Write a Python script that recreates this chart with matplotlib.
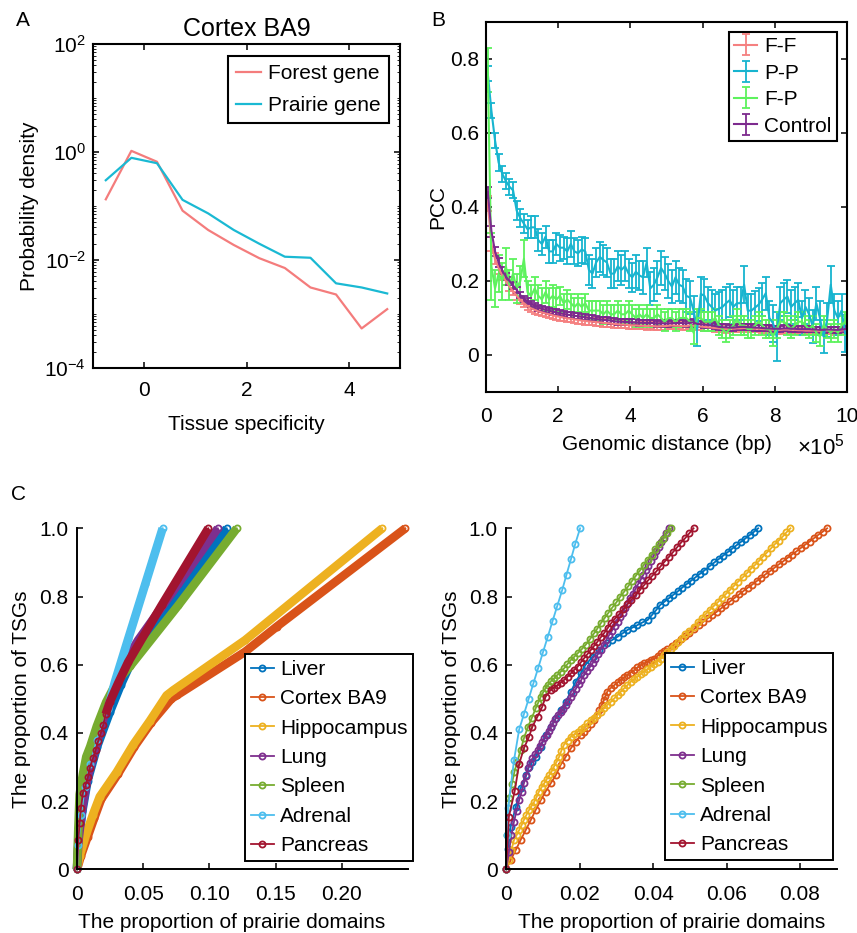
import numpy as np
import matplotlib
matplotlib.use("Agg")
import matplotlib.pyplot as plt
from matplotlib.ticker import LogLocator, NullFormatter

# ---------------- Panel A data ----------------
ts_x = [-0.75, -0.25, 0.25, 0.75, 1.25, 1.75, 2.25, 2.75, 3.25, 3.75, 4.25, 4.75]
forest_density = [0.133, 1.05, 0.66, 0.082, 0.036, 0.019, 0.0108, 0.0071, 0.0031, 0.0023, 0.00054, 0.00123]
prairie_density = [0.30, 0.78, 0.62, 0.13, 0.073, 0.036, 0.020, 0.0115, 0.011, 0.0037, 0.0031, 0.0024]

# ---------------- Panel B data ----------------
dist_bins = np.arange(100) * 0.1 + 0.05   # genomic distance bin centres, x 1e5 bp
FF = [0.41, 0.30, 0.26, 0.235, 0.215, 0.20, 0.185, 0.172, 0.16, 0.148,
      0.14, 0.132, 0.126, 0.122, 0.118, 0.115, 0.112, 0.11, 0.107, 0.105,
      0.103, 0.101, 0.099, 0.098, 0.096, 0.095, 0.093, 0.092, 0.091, 0.09,
      0.089, 0.088, 0.087, 0.086, 0.085, 0.084, 0.083, 0.082, 0.082, 0.081,
      0.08, 0.08, 0.079, 0.079, 0.078, 0.079, 0.078, 0.077, 0.078, 0.078,
      0.079, 0.08, 0.079, 0.079, 0.078, 0.078, 0.08, 0.079, 0.077, 0.077,
      0.076, 0.075, 0.074, 0.073, 0.072, 0.071, 0.07, 0.071, 0.071, 0.072,
      0.072, 0.073, 0.072, 0.071, 0.071, 0.071, 0.07, 0.07, 0.069, 0.068,
      0.068, 0.068, 0.069, 0.069, 0.068, 0.068, 0.067, 0.067, 0.066, 0.066,
      0.066, 0.066, 0.065, 0.065, 0.066, 0.066, 0.065, 0.065, 0.066, 0.067]
FF_err = [0.02, 0.02, 0.015, 0.015, 0.012, 0.012, 0.012, 0.01, 0.01, 0.01,
          0.01, 0.01, 0.01, 0.01, 0.01, 0.01, 0.01, 0.01, 0.01, 0.01,
          0.01, 0.01, 0.01, 0.01, 0.01, 0.01, 0.01, 0.01, 0.01, 0.01,
          0.01, 0.01, 0.01, 0.01, 0.01, 0.01, 0.01, 0.01, 0.01, 0.01,
          0.01, 0.01, 0.01, 0.01, 0.01, 0.01, 0.01, 0.01, 0.01, 0.01,
          0.01, 0.01, 0.01, 0.01, 0.01, 0.01, 0.01, 0.01, 0.01, 0.01,
          0.01, 0.01, 0.01, 0.01, 0.01, 0.01, 0.01, 0.01, 0.01, 0.01,
          0.01, 0.01, 0.01, 0.01, 0.01, 0.01, 0.01, 0.01, 0.01, 0.01,
          0.01, 0.01, 0.01, 0.01, 0.01, 0.01, 0.01, 0.01, 0.01, 0.01,
          0.01, 0.01, 0.01, 0.01, 0.01, 0.01, 0.01, 0.01, 0.01, 0.01]
PP = [0.76, 0.66, 0.58, 0.52, 0.49, 0.47, 0.455, 0.445, 0.39, 0.37,
      0.355, 0.34, 0.345, 0.345, 0.31, 0.30, 0.32, 0.28, 0.28, 0.30,
      0.29, 0.29, 0.28, 0.30, 0.28, 0.275, 0.285, 0.28, 0.23, 0.22,
      0.25, 0.265, 0.257, 0.25, 0.22, 0.22, 0.24, 0.23, 0.24, 0.22,
      0.21, 0.225, 0.215, 0.21, 0.25, 0.18, 0.19, 0.21, 0.235, 0.22,
      0.20, 0.185, 0.21, 0.19, 0.185, 0.16, 0.155, 0.12, 0.07, 0.165,
      0.16, 0.14, 0.13, 0.12, 0.125, 0.13, 0.14, 0.148, 0.13, 0.14,
      0.14, 0.19, 0.12, 0.12, 0.128, 0.136, 0.15, 0.167, 0.10, 0.086,
      0.05, 0.14, 0.15, 0.158, 0.13, 0.14, 0.149, 0.10, 0.13, 0.11,
      0.077, 0.14, 0.10, 0.05, 0.095, 0.19, 0.12, 0.10, 0.12, 0.058]
PP_err = [0.02, 0.02, 0.02, 0.022, 0.022, 0.022, 0.022, 0.022, 0.025, 0.025,
          0.025, 0.025, 0.03, 0.03, 0.03, 0.03, 0.03, 0.03, 0.03, 0.03,
          0.035, 0.03, 0.035, 0.035, 0.035, 0.035, 0.035, 0.035, 0.04, 0.04,
          0.04, 0.04, 0.04, 0.04, 0.04, 0.04, 0.04, 0.04, 0.04, 0.04,
          0.04, 0.045, 0.04, 0.045, 0.04, 0.045, 0.045, 0.045, 0.045, 0.045,
          0.045, 0.045, 0.045, 0.045, 0.045, 0.045, 0.045, 0.04, 0.045, 0.045,
          0.045, 0.045, 0.045, 0.045, 0.045, 0.045, 0.045, 0.045, 0.045, 0.045,
          0.045, 0.05, 0.045, 0.045, 0.045, 0.045, 0.045, 0.045, 0.045, 0.05,
          0.065, 0.045, 0.045, 0.045, 0.045, 0.045, 0.045, 0.045, 0.045, 0.045,
          0.045, 0.045, 0.045, 0.045, 0.045, 0.05, 0.045, 0.045, 0.045, 0.05]
FP = [0.77, 0.24, 0.18, 0.22, 0.20, 0.24, 0.19, 0.22, 0.18, 0.20,
      0.26, 0.17, 0.16, 0.18, 0.16, 0.15, 0.17, 0.15, 0.16, 0.15,
      0.16, 0.14, 0.15, 0.14, 0.13, 0.14, 0.13, 0.14, 0.12, 0.12,
      0.12, 0.12, 0.11, 0.12, 0.11, 0.11, 0.12, 0.11, 0.11, 0.12,
      0.11, 0.10, 0.11, 0.10, 0.11, 0.10, 0.10, 0.11, 0.10, 0.09,
      0.10, 0.10, 0.09, 0.10, 0.10, 0.10, 0.09, 0.06, 0.10, 0.10,
      0.09, 0.09, 0.09, 0.10, 0.08, 0.07, 0.06, 0.07, 0.08, 0.10,
      0.08, 0.08, 0.07, 0.07, 0.08, 0.09, 0.08, 0.07, 0.07, 0.05,
      0.07, 0.09, 0.09, 0.08, 0.07, 0.08, 0.09, 0.09, 0.08, 0.07,
      0.08, 0.06, 0.05, 0.08, 0.07, 0.06, 0.07, 0.06, 0.08, 0.09]
FP_err = [0.06, 0.09, 0.05, 0.05, 0.05, 0.05, 0.04, 0.04, 0.04, 0.04,
          0.05, 0.03, 0.03, 0.03, 0.03, 0.03, 0.03, 0.03, 0.03, 0.03,
          0.025, 0.025, 0.025, 0.025, 0.025, 0.025, 0.025, 0.025, 0.025, 0.025,
          0.025, 0.025, 0.025, 0.025, 0.025, 0.025, 0.025, 0.025, 0.025, 0.025,
          0.025, 0.025, 0.025, 0.025, 0.025, 0.025, 0.025, 0.025, 0.025, 0.025,
          0.025, 0.025, 0.025, 0.025, 0.025, 0.025, 0.025, 0.03, 0.025, 0.025,
          0.025, 0.025, 0.025, 0.025, 0.025, 0.025, 0.025, 0.025, 0.025, 0.025,
          0.025, 0.025, 0.025, 0.025, 0.025, 0.025, 0.025, 0.025, 0.025, 0.025,
          0.025, 0.025, 0.025, 0.025, 0.025, 0.025, 0.025, 0.025, 0.025, 0.025,
          0.025, 0.025, 0.025, 0.025, 0.025, 0.025, 0.025, 0.025, 0.025, 0.025]
CT = [0.44, 0.335, 0.28, 0.25, 0.228, 0.212, 0.20, 0.188, 0.176, 0.162,
      0.152, 0.145, 0.138, 0.133, 0.128, 0.125, 0.122, 0.12, 0.117, 0.115,
      0.113, 0.111, 0.109, 0.108, 0.106, 0.105, 0.103, 0.102, 0.100, 0.099,
      0.097, 0.096, 0.095, 0.094, 0.093, 0.091, 0.09, 0.09, 0.089, 0.089,
      0.088, 0.088, 0.087, 0.087, 0.086, 0.087, 0.086, 0.085, 0.086, 0.085,
      0.085, 0.086, 0.086, 0.087, 0.086, 0.085, 0.087, 0.088, 0.084, 0.083,
      0.082, 0.081, 0.08, 0.078, 0.076, 0.075, 0.075, 0.074, 0.074, 0.075,
      0.076, 0.076, 0.075, 0.075, 0.074, 0.074, 0.073, 0.072, 0.072, 0.071,
      0.071, 0.071, 0.072, 0.072, 0.071, 0.071, 0.07, 0.07, 0.07, 0.07,
      0.069, 0.069, 0.068, 0.068, 0.069, 0.069, 0.068, 0.068, 0.069, 0.07]
CT_err = [0.015, 0.015, 0.012, 0.012, 0.01, 0.01, 0.01, 0.01, 0.008, 0.008,
          0.008, 0.008, 0.008, 0.008, 0.008, 0.008, 0.008, 0.008, 0.008, 0.008,
          0.008, 0.008, 0.008, 0.008, 0.008, 0.008, 0.008, 0.008, 0.008, 0.008,
          0.008, 0.008, 0.008, 0.008, 0.008, 0.008, 0.008, 0.008, 0.008, 0.008,
          0.008, 0.008, 0.008, 0.008, 0.008, 0.008, 0.008, 0.008, 0.008, 0.008,
          0.008, 0.008, 0.008, 0.008, 0.008, 0.008, 0.008, 0.008, 0.008, 0.008,
          0.008, 0.008, 0.008, 0.008, 0.008, 0.008, 0.008, 0.008, 0.008, 0.008,
          0.008, 0.008, 0.008, 0.008, 0.008, 0.008, 0.008, 0.008, 0.008, 0.008,
          0.008, 0.008, 0.008, 0.008, 0.008, 0.008, 0.008, 0.008, 0.008, 0.008,
          0.008, 0.008, 0.008, 0.008, 0.008, 0.008, 0.008, 0.008, 0.008, 0.008]

# ---------------- Panel C data ----------------
tissues = ["Liver", "Cortex BA9", "Hippocampus", "Lung", "Spleen", "Adrenal", "Pancreas"]

# left: proportion of prairie domains (all domains)
liver_L_x = [0, 0.001, 0.004, 0.008, 0.0152, 0.0247, 0.033, 0.040, 0.0765, 0.1131]
liver_L_y = [0, 0.07, 0.17, 0.26, 0.36, 0.46, 0.54, 0.60, 0.804, 1.0]
cortex_L_x = [0, 0.003, 0.008, 0.013, 0.0182, 0.031, 0.0434, 0.056, 0.0712, 0.0753, 0.127, 0.151, 0.248]
cortex_L_y = [0, 0.04, 0.095, 0.15, 0.205, 0.28, 0.36, 0.43, 0.50, 0.51, 0.638, 0.712, 1.0]
hippo_L_x = [0, 0.002, 0.0071, 0.012, 0.0172, 0.030, 0.0424, 0.055, 0.0677, 0.0727, 0.127, 0.2306]
hippo_L_y = [0, 0.04, 0.105, 0.16, 0.213, 0.285, 0.365, 0.435, 0.51, 0.525, 0.672, 1.0]
lung_L_x = [0, 0.001, 0.004, 0.008, 0.015, 0.022, 0.030, 0.038, 0.0462, 0.0763, 0.1064]
lung_L_y = [0, 0.08, 0.18, 0.27, 0.37, 0.47, 0.55, 0.62, 0.672, 0.836, 1.0]
spleen_L_x = [0, 0.001, 0.002, 0.0045, 0.007, 0.010, 0.015, 0.022, 0.030, 0.040, 0.0765, 0.1207]
spleen_L_y = [0, 0.12, 0.22, 0.28, 0.33, 0.36, 0.42, 0.49, 0.55, 0.595, 0.774, 1.0]
adrenal_L_x = [0, 0.001, 0.003, 0.006, 0.010, 0.015, 0.0235, 0.0286, 0.0387, 0.0517, 0.0647]
adrenal_L_y = [0, 0.07, 0.16, 0.24, 0.31, 0.38, 0.471, 0.549, 0.676, 0.838, 1.0]
pancreas_L_x = [0, 0.001, 0.002, 0.003, 0.0045, 0.0066, 0.0083, 0.0096, 0.012, 0.0141, 0.0159,
                0.0179, 0.0197, 0.0217, 0.0247, 0.031, 0.0387, 0.0639, 0.0992]
pancreas_L_y = [0, 0.086, 0.135, 0.18, 0.224, 0.248, 0.272, 0.297, 0.326, 0.35, 0.375,
                0.399, 0.423, 0.455, 0.49, 0.545, 0.608, 0.774, 1.0]

# right
liver_R_x = [0, 0.0005, 0.0012, 0.0026, 0.0039, 0.0053, 0.0062, 0.0071, 0.0080, 0.0094,
             0.0107, 0.0121, 0.0135, 0.0148, 0.0162, 0.0176, 0.0189, 0.0203, 0.0216, 0.0235,
             0.0253, 0.0275, 0.0289, 0.0303, 0.0317, 0.0330, 0.0344, 0.0357, 0.0371, 0.0385,
             0.0397, 0.0408, 0.0419, 0.0431, 0.0443, 0.0455, 0.0467, 0.0479, 0.0491, 0.0503,
             0.0515, 0.0527, 0.0539, 0.0555, 0.0567, 0.0579, 0.0591, 0.0603, 0.0615, 0.0627,
             0.0639, 0.0651, 0.0663, 0.0675, 0.0686]
liver_R_y = [0, 0.06, 0.125, 0.184, 0.237, 0.277, 0.301, 0.315, 0.330, 0.360,
             0.394, 0.418, 0.443, 0.467, 0.492, 0.521, 0.550, 0.575, 0.600, 0.623,
             0.643, 0.663, 0.673, 0.682, 0.692, 0.702, 0.709, 0.716, 0.724, 0.731,
             0.746, 0.760, 0.775, 0.785, 0.795, 0.805, 0.815, 0.826, 0.836, 0.846,
             0.856, 0.866, 0.876, 0.890, 0.900, 0.910, 0.920, 0.930, 0.940, 0.950,
             0.960, 0.970, 0.980, 0.990, 1.0]
cortex_R_x = [0, 0.0012, 0.0026, 0.0039, 0.0053, 0.0067, 0.0080, 0.0094, 0.0107, 0.0121,
              0.0135, 0.0148, 0.0162, 0.0176, 0.0189, 0.0203, 0.0212, 0.0221, 0.0230, 0.0239,
              0.0246, 0.0253, 0.0260, 0.0266, 0.0270, 0.0275, 0.0284, 0.0294, 0.0303, 0.0312,
              0.0321, 0.0330, 0.0339, 0.0348, 0.0357, 0.0366, 0.0376, 0.0385, 0.0394, 0.0403,
              0.0412, 0.0421, 0.0430, 0.0439, 0.0451, 0.0463, 0.0475, 0.0487, 0.0499, 0.0511,
              0.0525, 0.0537, 0.0549, 0.0561, 0.0573, 0.0585, 0.0597, 0.0610, 0.0622, 0.0634,
              0.0646, 0.0658, 0.0670, 0.0682, 0.0694, 0.0706, 0.0718, 0.0730, 0.0742, 0.0754,
              0.0766, 0.0778, 0.0790, 0.0802, 0.0814, 0.0826, 0.0838, 0.0850, 0.0862, 0.0874]
cortex_R_y = [0, 0.027, 0.057, 0.086, 0.115, 0.145, 0.174, 0.203, 0.228, 0.252,
              0.276, 0.306, 0.330, 0.355, 0.374, 0.394, 0.403, 0.413, 0.425, 0.438,
              0.452, 0.467, 0.482, 0.496, 0.508, 0.521, 0.531, 0.540, 0.548, 0.555,
              0.563, 0.570, 0.577, 0.584, 0.592, 0.599, 0.604, 0.609, 0.613, 0.618,
              0.626, 0.633, 0.639, 0.645, 0.655, 0.665, 0.675, 0.684, 0.694, 0.704,
              0.716, 0.726, 0.736, 0.746, 0.755, 0.765, 0.775, 0.786, 0.796, 0.806,
              0.816, 0.826, 0.835, 0.845, 0.855, 0.865, 0.874, 0.884, 0.894, 0.903,
              0.913, 0.923, 0.932, 0.942, 0.952, 0.961, 0.971, 0.981, 0.990, 1.0]
hippo_R_x = [0, 0.0007, 0.0014, 0.0021, 0.0028, 0.0035, 0.0042, 0.0048, 0.0055, 0.0062,
             0.0069, 0.0076, 0.0083, 0.0089, 0.0096, 0.0103, 0.0110, 0.0117, 0.0124, 0.0130,
             0.0137, 0.0144, 0.0150, 0.0157, 0.0167, 0.0176, 0.0185, 0.0194, 0.0203, 0.0212,
             0.0221, 0.0230, 0.0239, 0.0248, 0.0257, 0.0266, 0.0275, 0.0285, 0.0294, 0.0303,
             0.0312, 0.0321, 0.0330, 0.0339, 0.0348, 0.0357, 0.0366, 0.0375, 0.0384, 0.0394,
             0.0403, 0.0412, 0.0421, 0.0430, 0.0439, 0.0448, 0.0458, 0.0468, 0.0478, 0.0488,
             0.0499, 0.0510, 0.0521, 0.0532, 0.0543, 0.0554, 0.0565, 0.0576, 0.0587, 0.0598,
             0.0609, 0.0620, 0.0631, 0.0646, 0.0657, 0.0667, 0.0678, 0.0689, 0.0699, 0.0710,
             0.0721, 0.0731, 0.0742, 0.0753, 0.0763, 0.0774]
hippo_R_y = [0, 0.027, 0.057, 0.086, 0.100, 0.115, 0.130, 0.145, 0.160, 0.174,
             0.186, 0.198, 0.213, 0.228, 0.240, 0.252, 0.264, 0.276, 0.288, 0.301,
             0.315, 0.330, 0.348, 0.365, 0.377, 0.389, 0.396, 0.403, 0.410, 0.418,
             0.428, 0.438, 0.445, 0.452, 0.462, 0.472, 0.482, 0.491, 0.501, 0.511,
             0.521, 0.531, 0.540, 0.550, 0.558, 0.565, 0.573, 0.580, 0.587, 0.594,
             0.602, 0.609, 0.618, 0.627, 0.636, 0.645, 0.655, 0.666, 0.677, 0.689,
             0.700, 0.712, 0.724, 0.736, 0.748, 0.760, 0.772, 0.783, 0.795, 0.807,
             0.819, 0.831, 0.843, 0.858, 0.870, 0.882, 0.893, 0.905, 0.917, 0.929,
             0.941, 0.953, 0.964, 0.976, 0.988, 1.0]
lung_R_x = [0, 0.0007, 0.0014, 0.0021, 0.0028, 0.0035, 0.0042, 0.0048, 0.0054, 0.0059,
            0.0065, 0.0071, 0.0078, 0.0085, 0.0092, 0.0098, 0.0104, 0.0110, 0.0116, 0.0122,
            0.0128, 0.0134, 0.0140, 0.0148, 0.0155, 0.0162, 0.0169, 0.0176, 0.0183, 0.0190,
            0.0197, 0.0204, 0.0212, 0.0219, 0.0227, 0.0235, 0.0242, 0.0249, 0.0257, 0.0265,
            0.0272, 0.0280, 0.0288, 0.0295, 0.0303, 0.0310, 0.0317, 0.0324, 0.0331, 0.0338,
            0.0345, 0.0352, 0.0359, 0.0366, 0.0373, 0.0380, 0.0387, 0.0394, 0.0401, 0.0408,
            0.0415, 0.0422, 0.0429, 0.0436, 0.0443]
lung_R_y = [0, 0.05, 0.10, 0.14, 0.172, 0.203, 0.228, 0.252, 0.274, 0.296,
            0.311, 0.325, 0.338, 0.350, 0.362, 0.374, 0.384, 0.394, 0.406, 0.418,
            0.430, 0.442, 0.453, 0.460, 0.469, 0.481, 0.494, 0.506, 0.518, 0.530,
            0.543, 0.555, 0.570, 0.581, 0.592, 0.604, 0.617, 0.630, 0.643, 0.658,
            0.672, 0.687, 0.700, 0.713, 0.726, 0.740, 0.753, 0.767, 0.781, 0.795,
            0.808, 0.822, 0.836, 0.849, 0.863, 0.877, 0.890, 0.904, 0.918, 0.932,
            0.945, 0.959, 0.973, 0.986, 1.0]
spleen_R_x = [0, 0.0002, 0.0007, 0.0015, 0.0022, 0.0030, 0.0039, 0.0048, 0.0059, 0.0070,
              0.0080, 0.0087, 0.0094, 0.0100, 0.0107, 0.0114, 0.0121, 0.0130, 0.0139, 0.0148,
              0.0157, 0.0166, 0.0176, 0.0185, 0.0194, 0.0205, 0.0216, 0.0228, 0.0239, 0.0248,
              0.0257, 0.0268, 0.0278, 0.0289, 0.0300, 0.0310, 0.0321, 0.0332, 0.0342, 0.0353,
              0.0364, 0.0374, 0.0385, 0.0396, 0.0406, 0.0417, 0.0428, 0.0438, 0.0449]
spleen_R_y = [0, 0.10, 0.209, 0.250, 0.285, 0.316, 0.350, 0.384, 0.418, 0.445,
              0.472, 0.489, 0.506, 0.518, 0.531, 0.541, 0.551, 0.560, 0.570, 0.579,
              0.589, 0.601, 0.614, 0.623, 0.633, 0.645, 0.658, 0.675, 0.692, 0.706,
              0.721, 0.737, 0.752, 0.768, 0.783, 0.799, 0.814, 0.830, 0.845, 0.861,
              0.876, 0.892, 0.907, 0.923, 0.938, 0.954, 0.969, 0.985, 1.0]
adrenal_R_x = [0, 0.0002, 0.0005, 0.0021, 0.0035, 0.0048, 0.0061, 0.0074, 0.0087, 0.0100,
               0.0113, 0.0126, 0.0139, 0.0152, 0.0164, 0.0176, 0.0188, 0.0201]
adrenal_R_y = [0, 0.10, 0.18, 0.32, 0.41, 0.455, 0.50, 0.546, 0.591, 0.637,
               0.682, 0.728, 0.773, 0.818, 0.864, 0.909, 0.955, 1.0]
pancreas_R_x = [0, 0.0007, 0.0023, 0.0035, 0.0048, 0.0062, 0.0071, 0.0085, 0.0098, 0.0107,
                0.0121, 0.0130, 0.0139, 0.0148, 0.0157, 0.0167, 0.0176, 0.0185, 0.0194, 0.0203,
                0.0212, 0.0221, 0.0230, 0.0239, 0.0248, 0.0257, 0.0266, 0.0276, 0.0285, 0.0296,
                0.0308, 0.0319, 0.0330, 0.0341, 0.0353, 0.0364, 0.0375, 0.0386, 0.0398, 0.0409,
                0.0420, 0.0431, 0.0443, 0.0454, 0.0465, 0.0476, 0.0488, 0.0499, 0.0510]
pancreas_R_y = [0, 0.154, 0.230, 0.309, 0.355, 0.389, 0.418, 0.448, 0.477, 0.506,
                0.526, 0.533, 0.540, 0.547, 0.555, 0.565, 0.575, 0.585, 0.594, 0.607,
                0.619, 0.631, 0.643, 0.655, 0.667, 0.680, 0.692, 0.707, 0.721, 0.735,
                0.749, 0.763, 0.777, 0.791, 0.805, 0.819, 0.833, 0.847, 0.861, 0.874,
                0.888, 0.902, 0.916, 0.930, 0.944, 0.958, 0.972, 0.986, 1.0]

# ---------------- style ----------------
tissue_colors = ["#0072BD", "#D95319", "#EDB120", "#7E2F8E", "#77AC30", "#4DBEEE", "#A2142F"]
band_from = {"Adrenal": 0.45, "Pancreas": 0.45}

plt.rcParams.update({
    "font.family": ["Liberation Sans", "DejaVu Sans"],
    "font.size": 15,
    "mathtext.fontset": "custom",
    "mathtext.rm": "Liberation Sans",
    "mathtext.it": "Liberation Sans:italic",
    "mathtext.bf": "Liberation Sans:bold",
    "axes.linewidth": 1.5,
    "xtick.direction": "in",
    "ytick.direction": "in",
    "xtick.major.size": 4,
    "ytick.major.size": 4,
    "xtick.minor.size": 2,
    "ytick.minor.size": 2,
    "xtick.major.width": 1.1,
    "ytick.major.width": 1.1,
    "legend.frameon": True,
    "legend.fancybox": False,
    "legend.edgecolor": "black",
    "legend.framealpha": 1.0,
})

W, H = 857, 933
fig = plt.figure(figsize=(W / 100, H / 100), dpi=100)


def rect(l, t, r, b):
    return [l / W, 1 - b / H, (r - l) / W, (b - t) / H]


# ---------------- Panel A ----------------
axA = fig.add_axes(rect(93, 44, 400, 368))
axA.plot(ts_x, forest_density, color="#F47C7C", lw=1.6, label="Forest gene")
axA.plot(ts_x, prairie_density, color="#1AB9D3", lw=1.6, label="Prairie gene")
axA.set_yscale("log")
axA.set_ylim(1e-4, 1e2)
axA.set_xlim(-1, 5)
axA.set_xticks([0, 2, 4])
axA.set_yticks([1e-4, 1e-2, 1e0, 1e2])
axA.yaxis.set_minor_locator(LogLocator(base=10, subs=np.arange(1, 10), numticks=50))
axA.yaxis.set_minor_formatter(NullFormatter())
axA.tick_params(which="both", top=True, right=True)
axA.tick_params(axis="x", pad=9)
axA.tick_params(axis="y", pad=5)
axA.set_title("Cortex BA9", pad=6)
axA.set_xlabel("Tissue specificity", labelpad=11)
axA.set_ylabel("Probability density", labelpad=4)
legA = axA.legend(loc="upper right", bbox_to_anchor=(1 - 11 / 307, 1 - 12 / 324),
                  borderaxespad=0, handlelength=1.2, handletextpad=0.35,
                  labelspacing=0.62, borderpad=0.38)
legA.get_frame().set_linewidth(1.5)

# ---------------- Panel B ----------------
axB = fig.add_axes(rect(486, 22, 847, 392))
for vals, errs, col, lab in [(FF, FF_err, "#F58080", "F-F"),
                             (PP, PP_err, "#17B4CF", "P-P"),
                             (FP, FP_err, "#5DF25D", "F-P"),
                             (CT, CT_err, "#7D2A8E", "Control")]:
    axB.errorbar(dist_bins, vals, yerr=errs, color=col, lw=1.5, elinewidth=1.3,
                 capsize=3.2, capthick=1.3, label=lab)
axB.set_xlim(0, 10)
axB.set_ylim(-0.1, 0.9)
axB.set_xticks([0, 2, 4, 6, 8, 10])
axB.set_yticks([0, 0.2, 0.4, 0.6, 0.8])
axB.set_yticklabels(["0", "0.2", "0.4", "0.6", "0.8"])
axB.tick_params(which="both", top=True, right=True)
axB.tick_params(axis="x", pad=11)
axB.tick_params(axis="y", pad=5)
axB.set_xlabel("Genomic distance (bp)", labelpad=6)
axB.set_ylabel("PCC", labelpad=2)
legB = axB.legend(loc="upper right", bbox_to_anchor=(1 - 10 / 361, 1 - 10 / 370),
                  borderaxespad=0, handlelength=1.1, handletextpad=0.35,
                  labelspacing=0.36, borderpad=0.25)
legB.get_frame().set_linewidth(1.5)
fig.text(797 / W, 1 - 455 / H, r"$\times\mathdefault{10^{5}}$", ha="left", va="baseline",
         fontsize=16)

# ---------------- Panel C ----------------
left_data = [(liver_L_x, liver_L_y), (cortex_L_x, cortex_L_y), (hippo_L_x, hippo_L_y),
             (lung_L_x, lung_L_y), (spleen_L_x, spleen_L_y), (adrenal_L_x, adrenal_L_y),
             (pancreas_L_x, pancreas_L_y)]
right_data = [(liver_R_x, liver_R_y), (cortex_R_x, cortex_R_y), (hippo_R_x, hippo_R_y),
              (lung_R_x, lung_R_y), (spleen_R_x, spleen_R_y), (adrenal_R_x, adrenal_R_y),
              (pancreas_R_x, pancreas_R_y)]

axL = fig.add_axes(rect(77, 528.3, 408, 869.3))
axR = fig.add_axes(rect(506.3, 528.3, 836.7, 869.3))

for name, col, (xs, ys) in zip(tissues, tissue_colors, left_data):
    xs = np.asarray(xs); ys = np.asarray(ys)
    sel = ys >= band_from.get(name, 0.0)
    axL.plot(xs[sel], ys[sel], "-", color=col, lw=6.2, solid_capstyle="butt",
             solid_joinstyle="round", clip_on=False)
    axL.plot(xs, ys, "-o", color=col, lw=1.3, ms=4.4, mfc="none", mew=1.3,
             clip_on=False, label=name)

for name, col, (xs, ys) in zip(tissues, tissue_colors, right_data):
    axR.plot(xs, ys, "-o", color=col, lw=1.3, ms=4.4, mfc="none", mew=1.3,
             clip_on=False, label=name)

axL.set_xlim(0, 0.25)
axL.set_xticks([0, 0.05, 0.10, 0.15, 0.20])
axL.set_xticklabels(["0", "0.05", "0.10", "0.15", "0.20"])
axR.set_xlim(0, 0.09)
axR.set_xticks([0, 0.02, 0.04, 0.06, 0.08])
axR.set_xticklabels(["0", "0.02", "0.04", "0.06", "0.08"])

for ax, (ll, tt) in [(axL, (245, 654)), (axR, (665, 653))]:
    ax.set_ylim(0, 1.0)
    ax.set_yticks([0, 0.2, 0.4, 0.6, 0.8, 1.0])
    ax.set_yticklabels(["0", "0.2", "0.4", "0.6", "0.8", "1.0"])
    ax.spines["top"].set_visible(False)
    ax.spines["right"].set_visible(False)
    ax.spines["left"].set_linewidth(1.4)
    ax.spines["bottom"].set_linewidth(1.4)
    ax.tick_params(axis="x", pad=11)
    ax.tick_params(axis="y", pad=6)
    ax.set_xlabel("The proportion of prairie domains", labelpad=7)
    ax.set_ylabel("The proportion of TSGs", labelpad=6)
    leg = ax.legend(loc="upper left", bbox_to_anchor=(ll / W, 1 - tt / H),
                    bbox_transform=fig.transFigure, borderaxespad=0,
                    handlelength=1.1, handletextpad=0.3, labelspacing=0.5,
                    borderpad=0.28)
    leg.get_frame().set_linewidth(1.4)
    leg.set_zorder(5)

axL.xaxis.label.set_x((232 - 77) / 331)

# ---------------- panel letters ----------------
fig.text(23 / W, 1 - 21 / H, "A", ha="center", va="center", fontsize=15)
fig.text(438 / W, 1 - 21 / H, "B", ha="center", va="center", fontsize=15)
fig.text(18 / W, 1 - 495 / H, "C", ha="center", va="center", fontsize=15)

fig.savefig("out.png", dpi=100)
